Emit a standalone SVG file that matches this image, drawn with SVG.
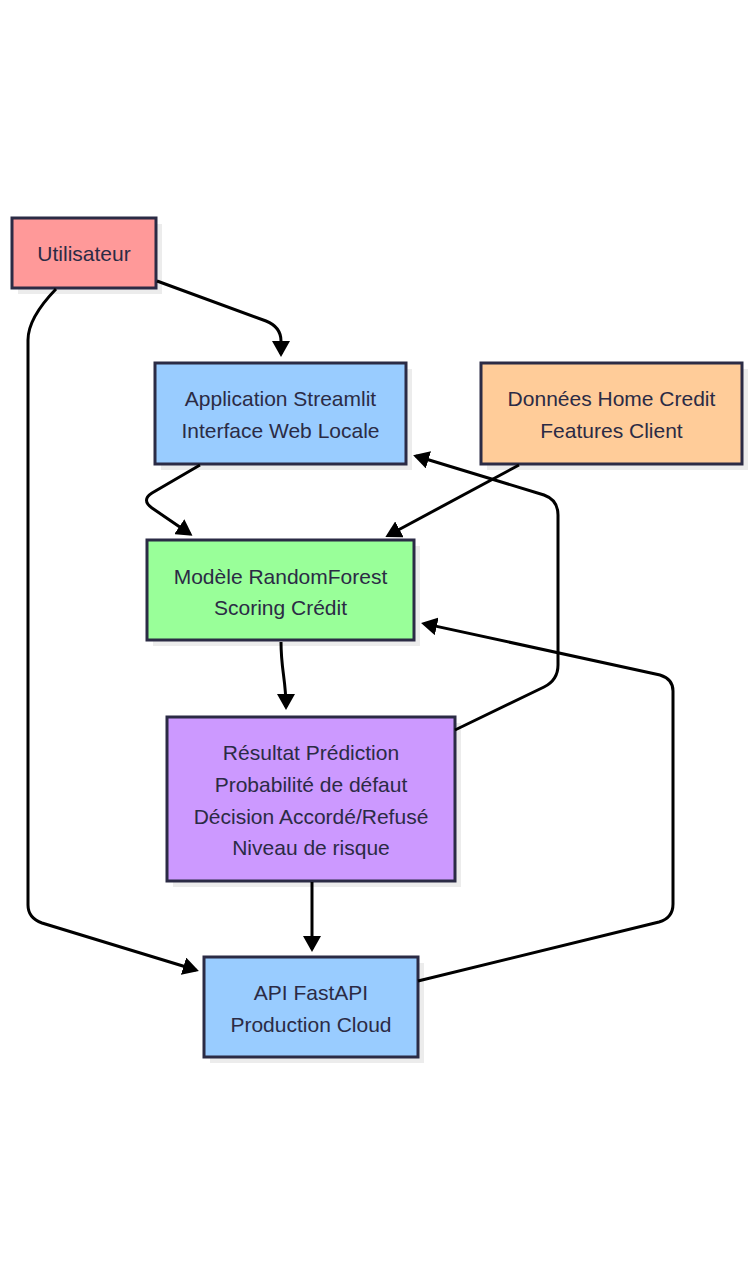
<svg xmlns="http://www.w3.org/2000/svg" width="754" height="1278" viewBox="0 0 754 1278">
<style>
.shadow{fill:#ececec}
.box{stroke:#2b2b45;stroke-width:3}
.lbl{font-family:"Liberation Sans",Arial,sans-serif;font-size:21px;fill:#2b2b45;text-anchor:middle;dominant-baseline:central}
.edge{fill:none;stroke:#000;stroke-width:3;marker-end:url(#arr)}
</style>
<defs>
<marker id="arr" viewBox="0 0 16 18" refX="13" refY="9" markerWidth="16" markerHeight="18" markerUnits="userSpaceOnUse" orient="auto">
<path d="M0,0 L16,9 L0,18 z" fill="#000"/>
</marker>
</defs>
<rect width="754" height="1278" fill="#fff"/>
<g id="utilisateur">
<rect class="shadow" x="18" y="224" width="144" height="70"/>
<rect class="box" x="12" y="218" width="144" height="70" fill="#ff9999"/>
<text class="lbl" x="84" y="253">Utilisateur</text>
</g>
<g id="streamlit">
<rect class="shadow" x="161" y="369" width="251" height="101"/>
<rect class="box" x="155" y="363" width="251" height="101" fill="#99ccff"/>
<text class="lbl" x="280.5" y="398">Application Streamlit</text>
<text class="lbl" x="280.5" y="430">Interface Web Locale</text>
</g>
<g id="donnees">
<rect class="shadow" x="487" y="369" width="261" height="101"/>
<rect class="box" x="481" y="363" width="261" height="101" fill="#ffcc99"/>
<text class="lbl" x="611.5" y="398">Données Home Credit</text>
<text class="lbl" x="611.5" y="430">Features Client</text>
</g>
<g id="modele">
<rect class="shadow" x="153" y="546" width="267" height="100"/>
<rect class="box" x="147" y="540" width="267" height="100" fill="#99ff99"/>
<text class="lbl" x="280.5" y="576">Modèle RandomForest</text>
<text class="lbl" x="280.5" y="607">Scoring Crédit</text>
</g>
<g id="resultat">
<rect class="shadow" x="173" y="723" width="288" height="164"/>
<rect class="box" x="167" y="717" width="288" height="164" fill="#cc99ff"/>
<text class="lbl" x="311" y="752">Résultat Prédiction</text>
<text class="lbl" x="311" y="784">Probabilité de défaut</text>
<text class="lbl" x="311" y="816">Décision Accordé/Refusé</text>
<text class="lbl" x="311" y="847">Niveau de risque</text>
</g>
<g id="api">
<rect class="shadow" x="210" y="963" width="214" height="100"/>
<rect class="box" x="204" y="957" width="214" height="100" fill="#99ccff"/>
<text class="lbl" x="311" y="992">API FastAPI</text>
<text class="lbl" x="311" y="1024">Production Cloud</text>
</g>
<g id="connectors">
<path class="edge" d="M157,281 L266,321 Q281,327 281,341 L281,354"/>
<path class="edge" d="M56,289 Q28,318 28,340 L28,905 Q28,918 42,923 L196,970"/>
<path class="edge" d="M200,465 L152,493 Q141,500 152,508 L190,534"/>
<path class="edge" d="M519,465 L388,535.5"/>
<path class="edge" d="M455,730 L544,687 Q558,680 558,665 L558,515 Q558,500 544,495 L416,456"/>
<path class="edge" d="M418,981 L659,922 Q673,918 673,904 L673,691 Q673,679 660,675 L424,623.6"/>
<path class="edge" d="M281,642 C281,670 286,680 286,707"/>
<path class="edge" d="M312,882 L312,949"/>
</g>
</svg>
